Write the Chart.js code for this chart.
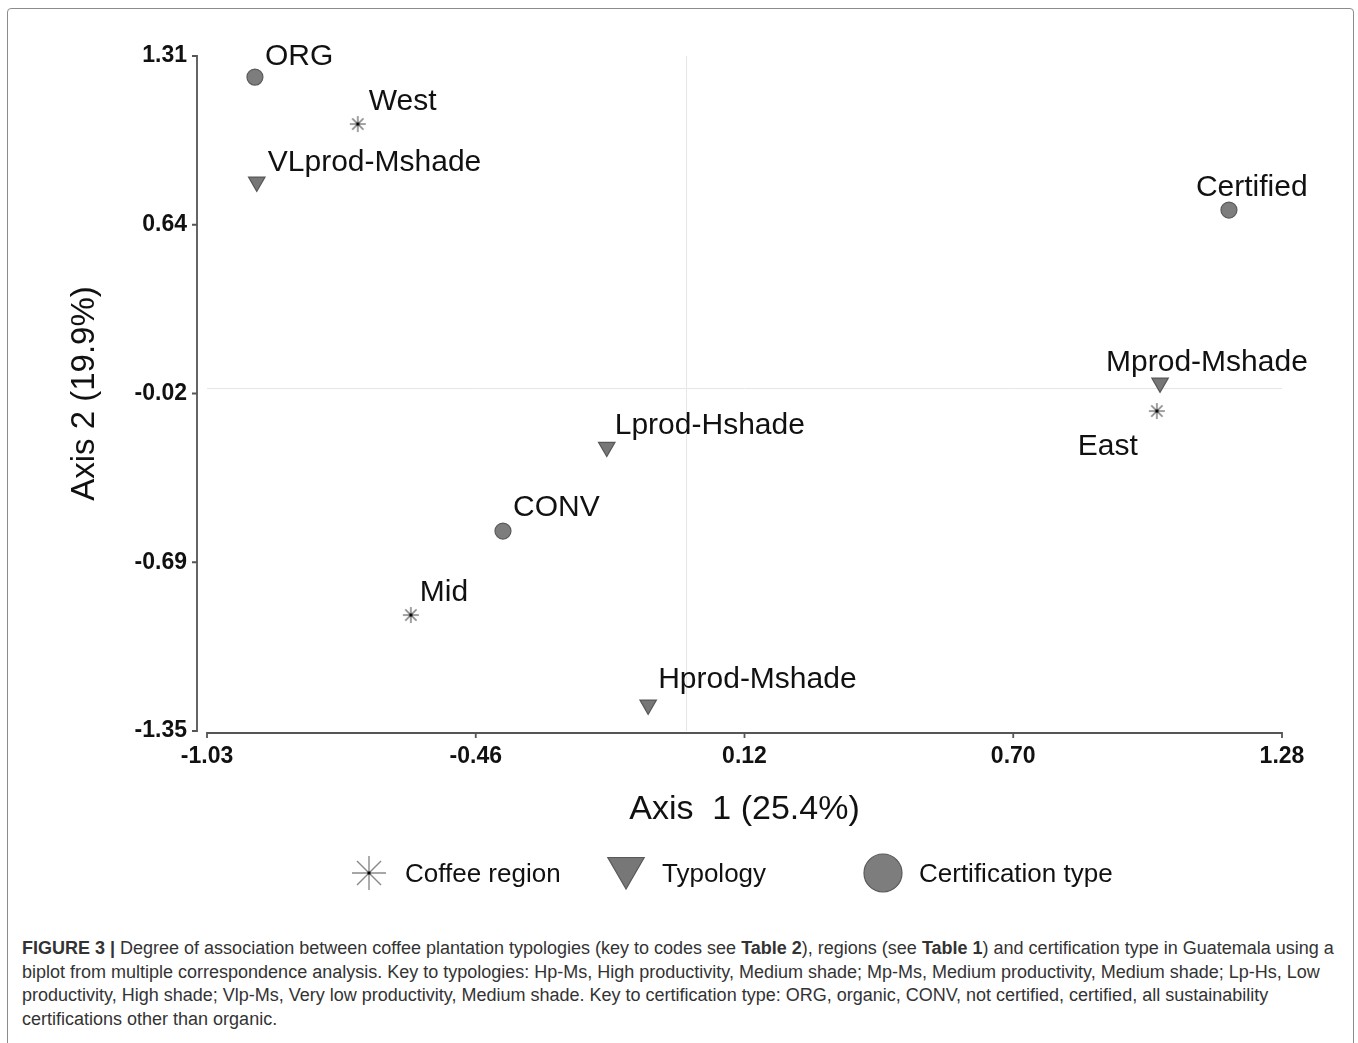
<!DOCTYPE html>
<html>
<head>
<meta charset="utf-8">
<script src="https://cdn.jsdelivr.net/npm/chart.js@4.4.1/dist/chart.umd.min.js"></script>
<style>
    html, body { margin: 0; padding: 0; background: #fff; overflow: hidden; }
    body { width: 1358px; height: 1043px; position: relative; font-family: "Liberation Sans", Arial, sans-serif; }
    .frame { position: absolute; left: 7px; top: 8px; width: 1345px; height: 1100px; border: 1.5px solid #8c8c8c; border-radius: 4px; }
    #biplot { position: absolute; left: 0; top: 0; }
    .caption { position: absolute; left: 22px; top: 937px; font-size: 18px; line-height: 23.7px; color: #333; }
    .caption div { white-space: nowrap; }
</style>
</head>
<body>
<div class="frame"></div>
<canvas id="biplot" width="1358" height="910"></canvas>
<div class="caption">
    <div><b>FIGURE 3 |</b> Degree of association between coffee plantation typologies (key to codes see <b>Table 2</b>), regions (see <b>Table 1</b>) and certification type in Guatemala using a</div>
    <div>biplot from multiple correspondence analysis. Key to typologies: Hp-Ms, High productivity, Medium shade; Mp-Ms, Medium productivity, Medium shade; Lp-Hs, Low</div>
    <div>productivity, High shade; Vlp-Ms, Very low productivity, Medium shade. Key to certification type: ORG, organic, CONV, not certified, certified, all sustainability</div>
    <div>certifications other than organic.</div>
</div>
<script>
// data
const regionNames = ["West", "East", "Mid"];
const regionX = [-0.706, 1.011, -0.592];
const regionY = [1.042, -0.089, -0.893];

const typologyNames = ["VLprod-Mshade", "Mprod-Mshade", "Lprod-Hshade", "Hprod-Mshade"];
const typologyX = [-0.923, 1.018, -0.171, -0.082];
const typologyY = [0.814, 0.022, -0.231, -1.247];

const certNames = ["ORG", "Certified", "CONV"];
const certX = [-0.927, 1.166, -0.394];
const certY = [1.227, 0.703, -0.562];

const xTickLabels = ["-1.03", "-0.46", "0.12", "0.70", "1.28"];
const yTickLabels = ["-1.35", "-0.69", "-0.02", "0.64", "1.31"];
const legendLabels = ["Coffee region", "Typology", "Certification type"];
const xTitle = "Axis  1 (25.4%)";
const yTitle = "Axis 2 (19.9%)";

// label placement next to each marker (px: left edge, cap centre)
const labelOffsets = {
    "ORG": [10, -23], "West": [11, -25], "VLprod-Mshade": [11, -22],
    "Certified": [-33, -25], "Mprod-Mshade": [-54, -23], "East": [-79, 33],
    "Lprod-Hshade": [8, -24], "CONV": [10, -26], "Mid": [9, -25], "Hprod-Mshade": [10, -28],
};

const FONT = '"Liberation Sans", Arial, sans-serif';
const xMin = parseFloat(xTickLabels[0]), xMax = parseFloat(xTickLabels[xTickLabels.length - 1]);
const yMin = parseFloat(yTickLabels[0]), yMax = parseFloat(yTickLabels[yTickLabels.length - 1]);

const toPoints = (xs, ys) => xs.map((x, i) => ({ x: x, y: ys[i] }));

// asterisk marker with a dark centre
function makeStar(r, lineWidth) {
    const c = document.createElement("canvas");
    const s = Math.ceil(r * 2 + 4);
    c.width = s; c.height = s;
    const g = c.getContext("2d");
    const m = s / 2;
    g.strokeStyle = "#8a8a8a";
    g.lineWidth = lineWidth;
    for (let k = 0; k < 4; k++) {
        const a = k * Math.PI / 4;
        g.beginPath();
        g.moveTo(m - Math.cos(a) * r, m - Math.sin(a) * r);
        g.lineTo(m + Math.cos(a) * r, m + Math.sin(a) * r);
        g.stroke();
    }
    g.fillStyle = "#000";
    g.fillRect(m - 1.5, m - 1.5, 3, 3);
    return c;
}

const markerStyles = [
    { pointStyle: makeStar(8, 1.6), legendStyle: makeStar(17, 1.4), rotation: 0, radius: 9, legendRadius: 17, fill: "#8a8a8a", border: "#8a8a8a" },
    { pointStyle: "triangle", legendStyle: "triangle", rotation: 180, radius: 9.5, legendRadius: 21, fill: "#777777", border: "#585858" },
    { pointStyle: "circle", legendStyle: "circle", rotation: 0, radius: 8, legendRadius: 19, fill: "#7d7d7d", border: "#5a5a5a" },
];

const seriesNames = [regionNames, typologyNames, certNames];

const evenTicks = (lo, hi, n) => Array.from({ length: n }, (_, i) => ({ value: lo + i * (hi - lo) / (n - 1) }));

const biplotDecor = {
    id: "biplotDecor",
    beforeDatasetsDraw(chart) {
        const { ctx, chartArea: a, scales: { x, y } } = chart;
        ctx.save();
        ctx.strokeStyle = "#e6e6e6";
        ctx.lineWidth = 1;
        const zx = Math.round(x.getPixelForValue(0)) + 0.5;
        const zy = Math.round(y.getPixelForValue(0)) + 0.5;
        ctx.beginPath();
        ctx.moveTo(zx, a.top); ctx.lineTo(zx, a.bottom);
        ctx.moveTo(a.left, zy); ctx.lineTo(a.right, zy);
        ctx.stroke();
        ctx.restore();
    },
    afterDatasetsDraw(chart) {
        const { ctx, chartArea: a, scales: { x, y } } = chart;
        ctx.save();

        // axis lines, offset like the original
        ctx.strokeStyle = "#555";
        ctx.lineWidth = 1.8;
        const yAxisX = a.left - 10;
        const xAxisY = a.bottom + 2;
        ctx.beginPath();
        ctx.moveTo(yAxisX, a.top); ctx.lineTo(yAxisX, a.bottom);
        y.ticks.forEach(t => {
            const py = y.getPixelForValue(t.value);
            ctx.moveTo(yAxisX + 0.9, py); ctx.lineTo(yAxisX - 5, py);
        });
        ctx.moveTo(a.left, xAxisY); ctx.lineTo(a.right, xAxisY);
        x.ticks.forEach(t => {
            const px = x.getPixelForValue(t.value);
            ctx.moveTo(px, xAxisY - 0.9); ctx.lineTo(px, xAxisY + 5);
        });
        ctx.stroke();

        // point labels
        ctx.fillStyle = "#111";
        ctx.font = "30px " + FONT;
        ctx.textAlign = "left";
        ctx.textBaseline = "alphabetic";
        chart.data.datasets.forEach((ds, di) => {
            const meta = chart.getDatasetMeta(di);
            meta.data.forEach((el, i) => {
                const name = seriesNames[di][i];
                const off = labelOffsets[name] || [10, -24];
                ctx.fillText(name, el.x + off[0], el.y + off[1] + 10.8);
            });
        });

        // axis titles
        ctx.font = "34px " + FONT;
        ctx.textAlign = "center";
        ctx.fillText(xTitle, (a.left + a.right) / 2, a.bottom + 88);
        ctx.save();
        ctx.font = "33px " + FONT;
        ctx.translate(94, (a.top + a.bottom) / 2);
        ctx.rotate(-Math.PI / 2);
        ctx.fillText(yTitle, 0, 0);
        ctx.restore();

        // legend
        const lx0 = 369, step = 257, ly = 873;
        ctx.font = "26px " + FONT;
        ctx.textAlign = "left";
        markerStyles.forEach((m, i) => {
            const cx = lx0 + i * step;
            ctx.fillStyle = m.fill;
            ctx.strokeStyle = m.border;
            ctx.lineWidth = 1.2;
            Chart.helpers.drawPoint(ctx, { pointStyle: m.legendStyle, rotation: m.rotation, radius: m.legendRadius, borderWidth: 1.2 }, cx, m.legendStyle === "triangle" ? ly - 5 : ly);
            ctx.fillStyle = "#111";
            ctx.fillText(legendLabels[i], cx + 36, ly + 9.4);
        });
        ctx.restore();
    },
};

new Chart(document.getElementById("biplot").getContext("2d"), {
    type: "scatter",
    data: {
        datasets: [
            { label: legendLabels[0], data: toPoints(regionX, regionY) },
            { label: legendLabels[1], data: toPoints(typologyX, typologyY) },
            { label: legendLabels[2], data: toPoints(certX, certY) },
        ].map((ds, i) => Object.assign(ds, {
            pointStyle: markerStyles[i].pointStyle,
            rotation: markerStyles[i].rotation,
            pointRadius: markerStyles[i].radius,
            backgroundColor: markerStyles[i].fill,
            borderColor: markerStyles[i].border,
            borderWidth: 1.2,
        })),
    },
    options: {
        responsive: false,
        animation: false,
        events: [],
        layout: { padding: { left: 0, top: 56, right: 76, bottom: 69 } },
        plugins: { legend: { display: false }, tooltip: { enabled: false } },
        scales: {
            x: {
                type: "linear",
                min: xMin,
                max: xMax,
                afterBuildTicks: s => { s.ticks = evenTicks(xMin, xMax, xTickLabels.length); },
                afterFit: s => { s.height = 110; },
                grid: { display: false, drawTicks: false },
                border: { display: false },
                ticks: {
                    callback: (v, i) => xTickLabels[i],
                    autoSkip: false,
                    maxRotation: 0,
                    padding: 12,
                    color: "#111",
                    font: { family: FONT, size: 23, weight: "bold" },
                },
            },
            y: {
                type: "linear",
                min: yMin,
                max: yMax,
                afterBuildTicks: s => { s.ticks = evenTicks(yMin, yMax, yTickLabels.length); },
                afterFit: s => { s.width = 207; },
                grid: { display: false, drawTicks: false },
                border: { display: false },
                ticks: {
                    callback: (v, i) => yTickLabels[i],
                    autoSkip: false,
                    padding: 20,
                    color: "#111",
                    font: { family: FONT, size: 23, weight: "bold" },
                },
            },
        },
    },
    plugins: [biplotDecor],
});
</script>
</body>
</html>
